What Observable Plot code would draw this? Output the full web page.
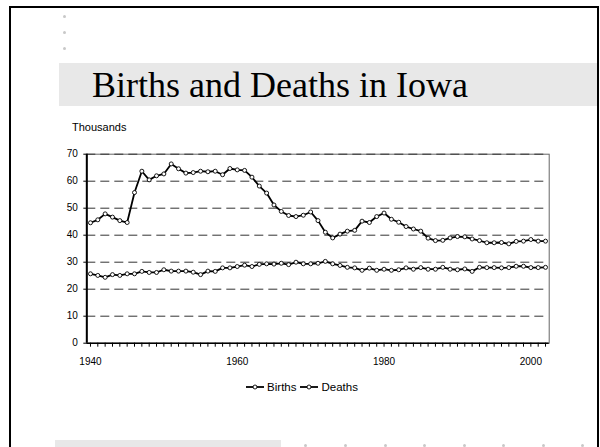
<!DOCTYPE html>
<html>
<head>
<meta charset="utf-8">
<script src="https://cdn.jsdelivr.net/npm/d3@7"></script>
<script src="https://cdn.jsdelivr.net/npm/@observablehq/plot@0.6"></script>
<style>
  html, body { margin: 0; padding: 0; background: #fff; }
  #page { position: relative; width: 600px; height: 447px; overflow: hidden; background: #fff; font-family: "Liberation Sans", Arial, sans-serif; }
  .abs { position: absolute; }
  .dot { position: absolute; width: 3px; height: 3px; border-radius: 50%; background: #c8c8c8; }
</style>
</head>
<body>
<div id="page">
  <div class="abs" style="left:9px;top:6px;width:586px;height:470px;border:2px solid #000;"></div>
  <div class="abs" style="left:59px;top:63px;width:538px;height:43px;background:#e8e8e8;"></div>
  <div class="abs" style="left:92px;top:67px;font-family:'Liberation Serif','Times New Roman',serif;font-size:36px;line-height:36px;color:#000;">Births and Deaths in Iowa</div>
  <div class="abs" style="left:55px;top:440px;width:226px;height:10px;background:#e8e8e8;"></div>
  <div class="abs" style="left:72px;top:121px;font-size:11px;color:#000;">Thousands</div>
  <div id="chart" class="abs" style="left:0;top:140px;"></div>
  <div id="legend" class="abs" style="left:0;top:381px;width:604px;text-align:center;font-size:11.5px;color:#000;"></div>
</div>
<script>
const years = d3.range(1940, 2003);
const births = [44.6,45.7,47.9,46.7,45.4,44.7,55.8,63.7,60.5,62.0,62.7,66.4,64.6,63.0,63.2,63.7,63.5,63.7,62.4,64.7,
  64.2,64.0,61.5,58.2,55.6,51.2,48.8,47.3,46.9,47.4,48.6,45.4,41.1,39.0,40.4,41.5,41.8,45.2,44.7,46.9,
  48.2,45.9,44.8,43.2,42.3,41.5,38.9,38.0,38.1,39.0,39.5,39.4,38.6,38.0,37.2,37.2,37.3,36.8,37.7,37.8,
  38.4,37.8,37.8];
const deaths = [25.7,25.1,24.4,25.4,25.1,25.7,25.7,26.6,26.2,26.2,27.2,26.7,26.7,26.7,26.3,25.4,26.7,26.6,27.9,27.9,
  28.4,28.9,28.4,29.2,29.4,29.3,29.6,29.1,30.0,29.4,29.4,29.6,30.3,29.4,28.8,28.1,27.9,27.0,27.8,27.0,
  27.4,27.0,27.2,27.9,27.4,28.0,27.4,27.4,28.1,27.4,27.2,27.5,26.6,28.1,28.0,28.0,27.9,28.0,28.5,28.5,
  28.0,28.0,28.1];
const seriesNames = ["Births", "Deaths"];
const yTicks = [0, 10, 20, 30, 40, 50, 60, 70];
const xLabels = [1940, 1960, 1980, 2000];
const gridValues = [10, 20, 30, 40, 50, 60, 70];

const rows = [];
years.forEach((yr, i) => {
  rows.push({year: yr, value: births[i], series: seriesNames[0]});
  rows.push({year: yr, value: deaths[i], series: seriesNames[1]});
});

const chart = Plot.plot({
  width: 600,
  height: 230,
  marginLeft: 86.3,
  marginRight: 51.3,
  marginTop: 13.7,
  marginBottom: 27.3,
  style: {fontFamily: "'Liberation Sans', Arial, sans-serif", fontSize: "10px", color: "#000", background: "transparent"},
  x: {domain: [1939.5, 2002.5]},
  y: {domain: [0, 70]},
  marks: [
    Plot.frame({stroke: "#666", strokeWidth: 1}),
    Plot.ruleY(gridValues, {x1: 1939.5, x2: 2001.8, stroke: "#333", strokeDasharray: "9,5", strokeWidth: 1}),
    Plot.axisY({ticks: yTicks, tickSize: 3, tickPadding: 6, label: null, fontSize: 10}),
    Plot.axisX({ticks: years, tickSize: 4, tickPadding: 11, label: null, fontSize: 10,
      tickFormat: d => xLabels.includes(d) ? String(d) : ""}),
    Plot.ruleX([1939.5], {strokeWidth: 2, stroke: "#000"}),
    Plot.ruleY([0], {strokeWidth: 1.5, stroke: "#000"}),
    Plot.line(rows, {x: "year", y: "value", z: "series", stroke: "#000", strokeWidth: 1.8}),
    Plot.dot(rows, {x: "year", y: "value", r: 2, fill: "#fff", stroke: "#000", strokeWidth: 0.9})
  ]
});
document.getElementById("chart").appendChild(chart);

const legend = document.getElementById("legend");
legend.innerHTML = seriesNames.map(n =>
  `<span style="display:inline-flex;align-items:center;margin:0 2px;">
     <svg width="18" height="8" style="margin-right:3px"><line x1="0" y1="4" x2="18" y2="4" stroke="#000" stroke-width="1.8"/><circle cx="9" cy="4" r="2" fill="#fff" stroke="#000" stroke-width="0.9"/></svg>${n}</span>`
).join("");

const page = document.getElementById("page");
[[64, 16], [64, 32], [64, 48]].forEach(([x, y]) => {
  const d = document.createElement("div"); d.className = "dot";
  d.style.left = (x - 1.5) + "px"; d.style.top = (y - 1.5) + "px"; page.appendChild(d);
});
[305, 345, 385, 424, 464, 503, 543, 582].forEach(x => {
  const d = document.createElement("div"); d.className = "dot";
  d.style.left = (x - 1.5) + "px"; d.style.top = "444px"; page.appendChild(d);
});
</script>
</body>
</html>
